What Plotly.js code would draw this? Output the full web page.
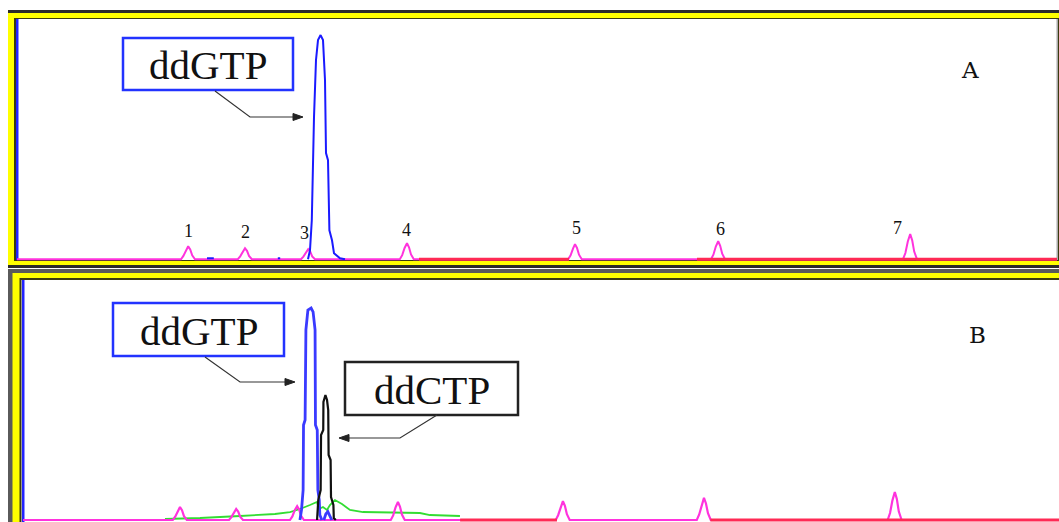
<!DOCTYPE html>
<html>
<head>
<meta charset="utf-8">
<script src="https://cdn.plot.ly/plotly-3.0.1.min.js"></script>
<style>html,body{margin:0;padding:0;background:#fff;}#chart{width:1059px;height:522px;}</style>
</head>
<body>
<div id="chart"></div>
<script>
// ---------- DATA (retention time in min, detector signal in arbitrary units) ----------
// Panel A
const pinkA_t = [0, 4.10,4.16,4.22,4.28,4.33,4.38,4.45, 5.52,5.58,5.64,5.70,5.75,5.80,5.87, 7.10,7.16,7.22,7.28,7.33,7.38,7.45, 9.57,9.63,9.69,9.75,9.80,9.85,9.92, 13.78,13.84,13.90,13.95,14.00,14.05,14.12, 17.35,17.41,17.47,17.53,17.58,17.63,17.70, 22.15,22.21,22.27,22.33,22.38,22.43,22.50, 26];
const pinkA_v = [0, 0,1.4,3.8,5.4,4.1,1.6,0, 0,1.2,3.2,4.6,3.5,1.4,0, 0,1.1,2.9,4.2,3.2,1.2,0, 0,1.7,4.7,6.7,5.0,2.0,0, 0,1.6,4.4,6.3,4.7,1.9,0, 0,1.9,5.3,7.5,5.6,2.3,0, 0,2.6,7.4,10.5,7.9,3.2,0, 0];
const redA_t = [10.05, 13.80, null, 17.0, 26];
const redA_v = [0, 0, null, 0, 0];
const blueA_t = [4.75,4.92,null,6.52,6.58,null, 7.275,7.325,7.37,7.40,7.425,7.475,7.525,7.59,7.65,7.70,7.725,7.775,7.81,7.875,7.925,8.075,8.2];
const blueA_v = [0.4,0.4,null,0.4,0.4,null, 0,3.8,16.3,45.6,59.4,83.3,91.6,93.7,91.6,74.9,44.4,41.4,12.1,7.9,2.5,0.4,0];
const peakLabelsA = ["1","2","3","4","5","6","7"];

// Panel B
const pinkB_t = [0, 3.76,3.82,3.88,3.94,3.99,4.04,4.11, 5.17,5.23,5.29,5.35,5.40,5.45,5.52, 6.70,6.76,6.82,6.88,6.93,6.98,7.05, 9.23,9.29,9.35,9.41,9.46,9.51,9.58, 13.37,13.43,13.49,13.55,13.60,13.65,13.72, 16.91,16.97,17.03,17.09,17.14,17.19,17.26, 21.70,21.76,21.82,21.88,21.93,21.98,22.05, 26];
const pinkB_v = [0, 0,1.4,3.8,5.4,4.1,1.6,0, 0,1.2,3.2,4.6,3.5,1.4,0, 0,1.5,4.1,5.8,4.4,1.7,0, 0,1.9,5.3,7.5,5.6,2.3,0, 0,2.0,5.5,7.9,5.9,2.4,0, 0,2.3,6.4,9.2,6.9,2.8,0, 0,2.9,8.2,11.7,8.8,3.5,0, 0];
const redB_t = [10.97, 13.40, null, 17.25, 26];
const redB_v = [0, 0, null, 0, 0];
const greenB_t = [3.563,4.442,5.445,6.324,6.700,6.951,7.202,7.378,7.428,7.528,7.629,7.704,7.829,8.005,8.206,8.532,9.962,10.213,10.966];
const greenB_v = [0.42,0.83,1.67,2.5,3.33,4.58,6.25,7.5,4.58,5.42,4.17,6.25,8.33,6.67,4.17,3.33,2.92,2.08,1.67];
const blueB_t = [6.95,6.99,7.03,7.04,7.08,7.10,7.15,7.23,7.28,7.33,7.34,7.385,7.40,7.435,7.45,7.50,null,7.55,7.60,7.65,7.70,7.75];
const blueB_v = [0,4.2,12.5,39.6,41.7,79.2,87.5,88.3,86.7,79.2,39.6,37.5,12.5,8.3,2.1,0,null,0,2.5,3.5,1.5,0];
const blackB_t = [7.38,7.41,7.47,7.48,7.535,7.54,7.59,7.63,7.66,7.67,7.72,7.73,7.79,7.80,7.85];
const blackB_v = [0,8.3,12.5,35.4,37.5,49.2,52.1,50,45.8,27.1,25,9.6,6.3,0.8,0];

// ---------- LAYOUT HELPERS ----------
const W = 1059, H = 522;
const px = x => x / W;
const py = y => 1 - y / H;

function rect(x0, y0, x1, y1, fill) {
  return {type:'rect', xref:'paper', yref:'paper', layer:'below',
    x0:px(x0), x1:px(x1), y0:py(y1), y1:py(y0),
    fillcolor:fill, line:{width:0, color:fill}};
}
function box(x0, y0, x1, y1, color) {
  return {type:'rect', xref:'paper', yref:'paper', layer:'above',
    x0:px(x0), x1:px(x1), y0:py(y1), y1:py(y0),
    fillcolor:'rgba(255,255,255,1)', line:{width:2.5, color:color}};
}
function poly(pts, color, w, fill) {
  let d = pts.map((p,i) => (i ? 'L' : 'M') + px(p[0]).toFixed(5) + ',' + py(p[1]).toFixed(5)).join(' ');
  if (fill) d += ' Z';
  return {type:'path', xref:'paper', yref:'paper', layer:'above', path:d,
    line:{color:color, width:w}, fillcolor: fill ? color : 'rgba(0,0,0,0)'};
}

const shapes = [
  // Panel A frame
  rect(8, 10, 1059, 268, '#2b2b2b'),
  rect(8, 13, 1059, 265, '#ffff00'),
  rect(14, 18, 1059, 261, '#3a3a10'),
  rect(16, 19, 1057, 260, '#ffffff'),
  rect(1056.5, 19, 1058, 260, '#aaaaaa'),
  rect(16, 19, 18.5, 260, '#2222ff'),
  // Panel B frame
  rect(8, 269, 1059, 522, '#5a5a5a'),
  rect(12.5, 273, 1059, 522, '#ffff00'),
  rect(19.5, 278, 1059, 522, '#3a3a10'),
  rect(21.5, 280, 1059, 522, '#ffffff'),
  rect(22, 280, 24.5, 522, '#2222ff'),
  // label boxes
  box(123, 38, 293, 90, '#2233ff'),
  box(113, 303, 284, 356, '#2233ff'),
  box(345, 362, 518, 415, '#222222'),
  // leader lines + arrow heads
  poly([[215,91],[250,117],[294,117]], '#333', 1.2),
  poly([[303,117],[293,113.5],[293,120.5]], '#222', 1, true),
  poly([[205,357],[240,382],[286,382]], '#333', 1.2),
  poly([[295,382],[285,378.5],[285,385.5]], '#222', 1, true),
  poly([[437,415],[400,438],[348,438]], '#333', 1.2),
  poly([[339,438],[349,434.5],[349,441.5]], '#222', 1, true)
];

const labelFont = {family:'Liberation Serif, Times New Roman, serif', size:41, color:'#111'};
const numFont = {family:'Liberation Serif, Times New Roman, serif', size:18, color:'#111'};
const letterFont = {family:'DejaVu Serif, serif', size:23, color:'#111'};
const numPos = [[189,231],[245,232],[304,233],[406,230],[576,228],[720,229],[897,228]];

const annotations = [
  {text:'ddGTP', x:px(208), y:py(65), font:labelFont},
  {text:'ddGTP', x:px(198.5), y:py(331), font:labelFont},
  {text:'ddCTP', x:px(431.5), y:py(390), font:labelFont},
  {text:'A', x:px(970), y:py(70), font:letterFont},
  {text:'B', x:px(977), y:py(335), font:letterFont}
].concat(peakLabelsA.map((s,i) => ({text:s, x:px(numPos[i][0]), y:py(numPos[i][1]), font:numFont})))
 .map(a => Object.assign({xref:'paper', yref:'paper', showarrow:false, xanchor:'center', yanchor:'middle'}, a));

const line = (t, v, color, w, xa, ya) => ({type:'scatter', mode:'lines', x:t, y:v, xaxis:xa, yaxis:ya,
  line:{color:color, width:w, shape:'linear'}, connectgaps:false, hoverinfo:'skip', showlegend:false});

const data = [
  line(pinkA_t, pinkA_v, '#ff33dd', 2, 'x', 'y'),
  line(redA_t, redA_v, '#ff2a55', 3, 'x', 'y'),
  line(blueA_t, blueA_v, '#1a1aff', 2, 'x', 'y'),
  line(greenB_t, greenB_v, '#33dd33', 1.8, 'x2', 'y2'),
  line(pinkB_t, pinkB_v, '#ff33dd', 2.2, 'x2', 'y2'),
  line(redB_t, redB_v, '#ff2a55', 3, 'x2', 'y2'),
  line(blueB_t, blueB_v, '#3a3aff', 2.8, 'x2', 'y2'),
  line(blackB_t, blackB_v, '#111111', 2.2, 'x2', 'y2')
];

const hidden = {showgrid:false, zeroline:false, showticklabels:false, ticks:'', showline:false, fixedrange:true};

const layout = {
  width:W, height:H, margin:{l:0, r:0, t:0, b:0},
  paper_bgcolor:'#ffffff', plot_bgcolor:'rgba(0,0,0,0)',
  xaxis: Object.assign({domain:[px(17), px(1057)], range:[0,26], anchor:'y'}, hidden),
  yaxis: Object.assign({domain:[py(264), py(20)], range:[-2,100], anchor:'x'}, hidden),
  xaxis2: Object.assign({domain:[px(23), px(1059)], range:[0,26], anchor:'y2'}, hidden),
  yaxis2: Object.assign({domain:[0, py(280)], range:[-0.83,100], anchor:'x2'}, hidden),
  shapes:shapes, annotations:annotations
};

Plotly.newPlot('chart', data, layout, {staticPlot:true, displayModeBar:false});
</script>
</body>
</html>
